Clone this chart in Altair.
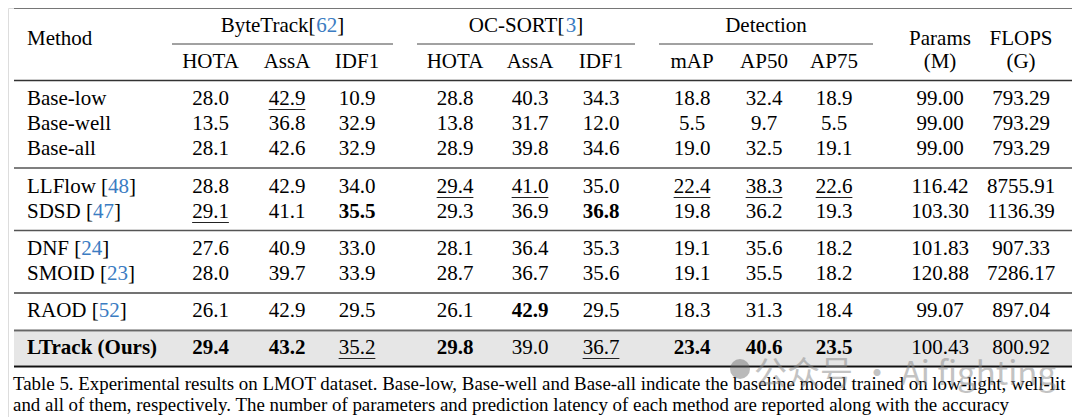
import altair as alt
import pandas as pd

# ---------------- data ----------------
methods = ["Base-low", "Base-well", "Base-all", "LLFlow", "SDSD", "DNF", "SMOID", "RAOD", "LTrack (Ours)"]
cites = ["", "", "", "48", "47", "24", "23", "52", ""]

bt_hota = [28.0, 13.5, 28.1, 28.8, 29.1, 27.6, 28.0, 26.1, 29.4]
bt_assa = [42.9, 36.8, 42.6, 42.9, 41.1, 40.9, 39.7, 42.9, 43.2]
bt_idf1 = [10.9, 32.9, 32.9, 34.0, 35.5, 33.0, 33.9, 29.5, 35.2]
oc_hota = [28.8, 13.8, 28.9, 29.4, 29.3, 28.1, 28.7, 26.1, 29.8]
oc_assa = [40.3, 31.7, 39.8, 41.0, 36.9, 36.4, 36.7, 42.9, 39.0]
oc_idf1 = [34.3, 12.0, 34.6, 35.0, 36.8, 35.3, 35.6, 29.5, 36.7]
det_map = [18.8, 5.5, 19.0, 22.4, 19.8, 19.1, 19.1, 18.3, 23.4]
det_ap50 = [32.4, 9.7, 32.5, 38.3, 36.2, 35.6, 35.5, 31.3, 40.6]
det_ap75 = [18.9, 5.5, 19.1, 22.6, 19.3, 18.2, 18.2, 18.4, 23.5]
params_m = [99.00, 99.00, 99.00, 116.42, 103.30, 101.83, 120.88, 99.07, 100.43]
flops_g = [793.29, 793.29, 793.29, 8755.91, 1136.39, 907.33, 7286.17, 897.04, 800.92]

group_headers = [("ByteTrack[", "62", "]"), ("OC-SORT[", "3", "]"), ("Detection", "", "")]
sub_headers = ["HOTA", "AssA", "IDF1", "HOTA", "AssA", "IDF1", "mAP", "AP50", "AP75"]

bold_cells = [("SDSD", "bt_idf1"), ("SDSD", "oc_idf1"), ("RAOD", "oc_assa"),
              ("LTrack (Ours)", "bt_hota"), ("LTrack (Ours)", "bt_assa"), ("LTrack (Ours)", "oc_hota"),
              ("LTrack (Ours)", "det_map"), ("LTrack (Ours)", "det_ap50"), ("LTrack (Ours)", "det_ap75")]
under_cells = [("Base-low", "bt_assa"), ("LLFlow", "oc_hota"), ("LLFlow", "oc_assa"),
               ("LLFlow", "det_map"), ("LLFlow", "det_ap50"), ("LLFlow", "det_ap75"),
               ("SDSD", "bt_hota"), ("LTrack (Ours)", "bt_idf1"), ("LTrack (Ours)", "oc_idf1")]

caption_lines = [
    "Table 5. Experimental results on LMOT dataset. Base-low, Base-well and Base-all indicate the baseline model trained on low-light, well-lit",
    "and all of them, respectively. The number of parameters and prediction latency of each method are reported along with the accuracy",
]
watermark = "公众号 · Ai fighting"

# ---------------- layout ----------------
FONT = "Liberation Serif, Times New Roman, serif"
FS = 21
CAP_FS = 18.9
BLUE = "#3b7cc2"

col_keys = ["bt_hota", "bt_assa", "bt_idf1", "oc_hota", "oc_assa", "oc_idf1",
            "det_map", "det_ap50", "det_ap75", "params", "flops"]
col_x = dict(zip(col_keys, [210.5, 287, 357, 455, 530, 601, 692, 764, 834, 940, 1021]))
row_y = [99, 124, 149, 187, 212, 249, 274, 311, 348]
method_x = 27
group_x = [282.5, 526, 766]
group_span = [(172, 393), (417, 635), (659, 873)]
y_group, y_mid, y_sub = 25.5, 39, 62

REG = {' ': 250, '.': 250, ',': 250, '-': 333, '[': 333, ']': 333, '(': 333, ')': 333,
       'A': 722, 'B': 667, 'C': 667, 'D': 722, 'E': 611, 'F': 556, 'G': 722, 'H': 722, 'I': 333,
       'L': 611, 'M': 889, 'N': 722, 'O': 722, 'P': 556, 'R': 667, 'S': 556, 'T': 611,
       'a': 444, 'b': 500, 'c': 444, 'd': 500, 'e': 444, 'f': 333, 'g': 500, 'h': 500, 'i': 278,
       'k': 500, 'l': 278, 'm': 778, 'n': 500, 'o': 500, 'p': 500, 'r': 333, 's': 389, 't': 278,
       'u': 500, 'w': 722, 'y': 500}
BLD = {' ': 250, '.': 250, '(': 333, ')': 333, 'L': 667, 'T': 667, 'O': 778,
       'r': 444, 'a': 500, 'c': 444, 'k': 556, 'u': 556, 's': 389}


def tw(s, bold=False, fs=FS):
    tab = BLD if bold else REG
    return sum(tab.get(ch, 500) for ch in s) / 1000 * fs


series = dict(zip(col_keys, [bt_hota, bt_assa, bt_idf1, oc_hota, oc_assa, oc_idf1,
                             det_map, det_ap50, det_ap75, params_m, flops_g]))

cells, unders = [], []
for i, m in enumerate(methods):
    for k in col_keys:
        v = series[k][i]
        s = f"{v:.2f}" if k in ("params", "flops") else f"{v:.1f}"
        b = (m, k) in bold_cells
        cells.append({"x": col_x[k], "y": row_y[i], "t": s, "bold": b})
        if (m, k) in under_cells:
            w = tw(s, b)
            unders.append({"x": col_x[k] - w / 2, "x2": col_x[k] + w / 2, "y": row_y[i] + 10.5,
                           "c": "#222", "w": 1.0})
cells = pd.DataFrame(cells)

# text pieces (label, citation in blue)
pieces = []
for i, m in enumerate(methods):
    bold = m.startswith("LTrack")
    if cites[i]:
        pre = m + " ["
        x0 = method_x
        pieces.append({"x": x0, "y": row_y[i], "t": pre, "c": "black", "bold": False})
        x1 = x0 + tw(pre)
        pieces.append({"x": x1, "y": row_y[i], "t": cites[i], "c": BLUE, "bold": False})
        pieces.append({"x": x1 + tw(cites[i]), "y": row_y[i], "t": "]", "c": "black", "bold": False})
    else:
        pieces.append({"x": method_x, "y": row_y[i], "t": m, "c": "black", "bold": bold})
for (pre, cite, post), cx in zip(group_headers, group_x):
    total = tw(pre + cite + post)
    x0 = cx - total / 2
    pieces.append({"x": x0, "y": y_group, "t": pre, "c": "black", "bold": False})
    if cite:
        pieces.append({"x": x0 + tw(pre), "y": y_group, "t": cite, "c": BLUE, "bold": False})
        pieces.append({"x": x0 + tw(pre + cite), "y": y_group, "t": post, "c": "black", "bold": False})
pieces.append({"x": method_x, "y": y_mid, "t": "Method", "c": "black", "bold": False})
pieces = pd.DataFrame(pieces)

centers = []
for k, h in zip(col_keys[:9], sub_headers):
    centers.append({"x": col_x[k], "y": y_sub, "t": h})
centers += [{"x": col_x["params"], "y": y_mid, "t": "Params"},
            {"x": col_x["params"], "y": y_sub, "t": "(M)"},
            {"x": col_x["flops"], "y": y_mid, "t": "FLOPS"},
            {"x": col_x["flops"], "y": y_sub, "t": "(G)"}]
centers = pd.DataFrame(centers)

L, R = 14, 1072
rules = [
    {"x": L, "x2": R, "y": 7.5, "c": "#111", "w": 1.8},
    {"x": L, "x2": R, "y": 80.5, "c": "#333", "w": 1.3},
    {"x": L, "x2": R, "y": 168, "c": "#555", "w": 1.3},
    {"x": L, "x2": R, "y": 230.5, "c": "#555", "w": 1.3},
    {"x": L, "x2": R, "y": 293, "c": "#444", "w": 1.5},
    {"x": L, "x2": R, "y": 330.5, "c": "#666", "w": 2.2},
    {"x": L, "x2": R, "y": 366.5, "c": "#111", "w": 2.2},
]
for a, b in group_span:
    rules.append({"x": a, "x2": b, "y": 44, "c": "#444", "w": 1.0})
rules = pd.DataFrame(rules + unders)

bg = pd.DataFrame([{"x": L, "x2": R, "y": 331.8, "y2": 365.3}])
caps = pd.DataFrame([{"x": 13, "y": 384, "t": caption_lines[0]},
                     {"x": 13, "y": 405, "t": caption_lines[1]}])
wm_icon_pos = pd.DataFrame([{"x": 740, "y": 369}])
wm = pd.DataFrame([{"x": 754, "y": 375, "t": watermark}])

W, H = 1064, 409
xs = alt.Scale(domain=[8, 8 + W], nice=False, zero=False)
ys = alt.Scale(domain=[8, 8 + H], nice=False, zero=False, reverse=True)
X = lambda f="x": alt.X(f"{f}:Q", scale=xs, axis=None)
Y = lambda f="y": alt.Y(f"{f}:Q", scale=ys, axis=None)

bg_layer = alt.Chart(bg).mark_rect(color="#e6e6e6").encode(x=X(), x2="x2:Q", y=Y(), y2="y2:Q")
rule_layer = alt.Chart(rules).mark_rule().encode(
    x=X(), x2="x2:Q", y=Y(),
    color=alt.Color("c:N", scale=None), size=alt.Size("w:Q", scale=None))

txt = dict(font=FONT, fontSize=FS, baseline="middle")
cell_norm = alt.Chart(cells).transform_filter("!datum.bold").mark_text(align="center", color="black", **txt).encode(
    x=X(), y=Y(), text="t:N")
cell_bold = alt.Chart(cells).transform_filter("datum.bold").mark_text(align="center", color="black", fontWeight="bold", **txt).encode(
    x=X(), y=Y(), text="t:N")
piece_norm = alt.Chart(pieces).transform_filter("!datum.bold").mark_text(align="left", **txt).encode(
    x=X(), y=Y(), text="t:N", color=alt.Color("c:N", scale=None))
piece_bold = alt.Chart(pieces).transform_filter("datum.bold").mark_text(align="left", fontWeight="bold", **txt).encode(
    x=X(), y=Y(), text="t:N", color=alt.Color("c:N", scale=None))
center_layer = alt.Chart(centers).mark_text(align="center", color="black", **txt).encode(
    x=X(), y=Y(), text="t:N")
cap_layer = alt.Chart(caps).mark_text(align="left", color="black", font=FONT, fontSize=CAP_FS, baseline="middle").encode(
    x=X(), y=Y(), text="t:N")
wm_icon = alt.Chart(wm_icon_pos).mark_point(filled=True, shape="circle", size=400, color="#666", opacity=0.45).encode(
    x=X(), y=Y())
wm_text = alt.Chart(wm).mark_text(align="left", font="Noto Sans CJK SC", fontSize=33, color="#888",
                                  opacity=0.5, baseline="middle").encode(x=X(), y=Y(), text="t:N")

chart = alt.layer(bg_layer, rule_layer, cell_norm, cell_bold, piece_norm, piece_bold, center_layer,
                  cap_layer, wm_icon, wm_text).properties(
    width=W, height=H, padding=0, autosize=alt.AutoSizeParams(type="none")
).configure_view(stroke=None).configure(background="white")

chart.save("out.html", embed_options={"renderer": "svg", "actions": False})
